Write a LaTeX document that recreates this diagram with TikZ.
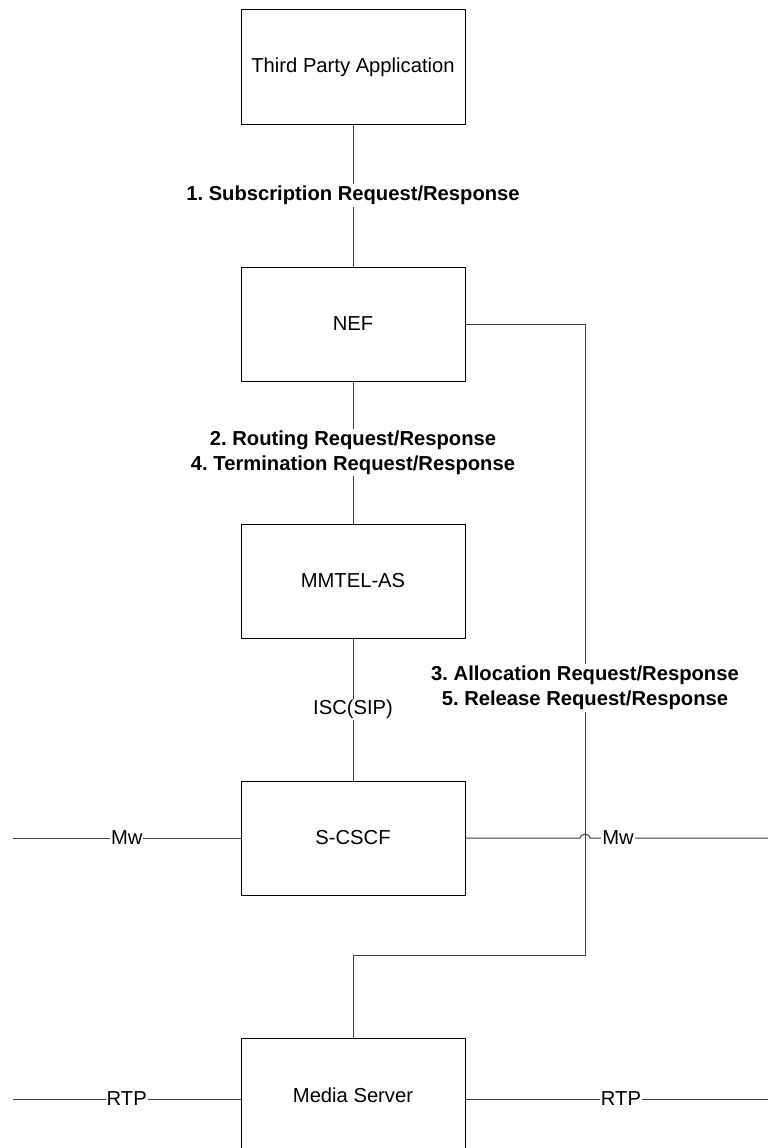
\documentclass[tikz,border=0pt]{standalone}
\usepackage{fontspec}
\setmainfont{Liberation Sans}
\frenchspacing
\begin{document}
\begin{tikzpicture}[x=1pt,y=-1pt,
  entity/.style={draw=black,line width=1pt,minimum width=224pt,minimum height=114pt,inner sep=0pt,
    font=\fontsize{20.2}{23}\selectfont},
  link/.style={draw=black!75,line width=1pt},
  steplabel/.style={fill=white,inner sep=2pt,align=center,
    font=\fontsize{20.2}{25}\selectfont\bfseries},
  ifacelabel/.style={fill=white,inner sep=1pt,font=\fontsize{20.2}{23}\selectfont}]
\useasboundingbox (0,0) rectangle (768,1148);

% functional entities
\node[entity] (tpa)   at (353,67)   {Third Party Application};
\node[entity] (nef)   at (353,324)  {NEF};
\node[entity] (mmtel) at (353,581)  {MMTEL-AS};
\node[entity] (scscf) at (353,838)  {S-CSCF};
\node[entity] (ms)    at (353,1095) {Media Server};

% free ends of the external interfaces
\coordinate (mwL)  at (13,838);
\coordinate (mwR)  at (768,838);
\coordinate (rtpL) at (13,1099);
\coordinate (rtpR) at (768,1099);
\coordinate (nefR) at (585,324);
\coordinate (msT)  at (585,955);

% vertical reference points
\draw[link] (tpa.south) -- node[steplabel] {1. Subscription Request/Response} (nef.north);
\draw[link] (nef.south) -- node[steplabel] {2. Routing Request/Response\\4. Termination Request/Response} (mmtel.north);
\draw[link] (mmtel.south) -- node[ifacelabel] {ISC(SIP)} (scscf.north);

% NEF to Media Server
\draw[link] (nef.east) -- (nefR) -- (msT) -| (ms.north);
\node[steplabel] at (585,688) {3. Allocation Request/Response\\5. Release Request/Response};

% Mw interfaces
\draw[link] (mwL) -- node[ifacelabel] {Mw} (scscf.west);
\draw[link] (scscf.east) -- (580,838) .. controls (580,833) and (590,833) .. (590,838) -- (mwR);
\node[ifacelabel] at (618,838) {Mw};

% RTP interfaces
\draw[link] (rtpL) -- node[ifacelabel] {RTP} (ms.west |- rtpL);
\draw[link] (ms.east |- rtpR) -- (rtpR);
\node[ifacelabel] at (621,1099) {RTP};
\end{tikzpicture}
\end{document}
